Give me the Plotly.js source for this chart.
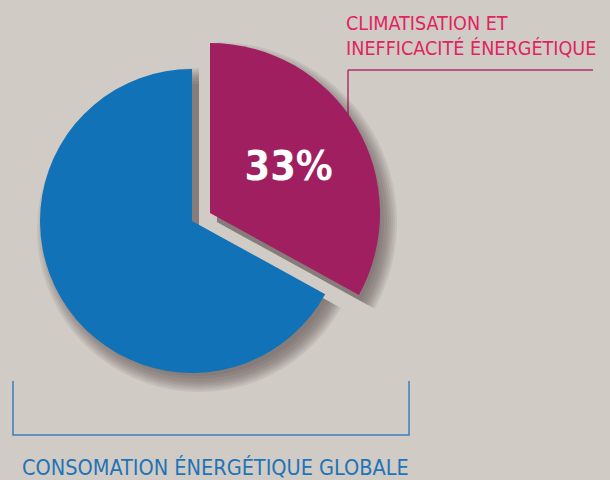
<!DOCTYPE html>
<html>
<head>
<meta charset="utf-8">
<script src="https://cdn.plot.ly/plotly-3.0.1.min.js"></script>
<style>html,body{margin:0;padding:0;background:#d0cbc5;}</style>
</head>
<body>
<div id="chart" style="width:610px;height:480px;"></div>
<script>
const labels = ["Climatisation et inefficacité énergétique", "Consommation énergétique globale"];
const values = [33, 67];
const sliceColors = ["#a01f60", "#1172b8"];
const topLabel = "CLIMATISATION ET<br>INEFFICACITÉ ÉNERGÉTIQUE";
const bottomLabel = "CONSOMATION ÉNERGÉTIQUE GLOBALE";

const W = 610, H = 480;
function dom(cx, cy, r) {
  return {x: [(cx - r) / W, (cx + r) / W], y: [1 - (cy + r) / H, 1 - (cy - r) / H]};
}
const FONT = "'DejaVu Sans Condensed', 'Liberation Sans Narrow', 'DejaVu Sans', sans-serif";

const base = {type: "pie", labels: labels, values: values, sort: false, direction: "clockwise",
  rotation: 0, hoverinfo: "skip", showlegend: false, textinfo: "none"};

const traces = [];
// soft shadow layers
const blurs = [-6, -3, 0, 2, 4, 6, 8, 10];
const sh = "rgba(55,45,40,0.075)";
blurs.forEach(b => {
  traces.push(Object.assign({}, base, {
    domain: dom(192 + 7, 221 + 9, 152 + b),
    marker: {colors: ["rgba(0,0,0,0)", sh]}
  }));
  traces.push(Object.assign({}, base, {
    domain: dom(210 + 7, 213 + 9, 170 + b),
    marker: {colors: [sh, "rgba(0,0,0,0)"]}
  }));
});
// blue slice
traces.push(Object.assign({}, base, {
  domain: dom(192, 221, 152),
  marker: {colors: ["rgba(0,0,0,0)", sliceColors[1]]}
}));
// magenta slice
traces.push(Object.assign({}, base, {
  domain: dom(210, 213, 170),
  marker: {colors: [sliceColors[0], "rgba(0,0,0,0)"]},
  textinfo: "percent",
  texttemplate: ["%{percent:.0%}", ""],
  textposition: "inside",
  insidetextorientation: "horizontal",
  insidetextfont: {family: FONT, size: 41, color: "#ffffff", weight: "bold"}
}));

const layout = {
  width: W, height: H,
  margin: {l: 0, r: 0, t: 0, b: 0},
  paper_bgcolor: "#d0cbc5",
  plot_bgcolor: "#d0cbc5",
  shapes: [
    {type: "line", xref: "paper", yref: "paper", x0: 348 / W, x1: 593 / W, y0: 1 - 70 / H, y1: 1 - 70 / H,
     line: {color: "#b0306a", width: 1.5}, layer: "below"},
    {type: "line", xref: "paper", yref: "paper", x0: 348 / W, x1: 348 / W, y0: 1 - 70 / H, y1: 1 - 130 / H,
     line: {color: "#b0306a", width: 1.5}, layer: "below"},
    {type: "path", xref: "paper", yref: "paper",
     path: `M ${13 / W} ${1 - 381 / H} L ${13 / W} ${1 - 435 / H} L ${409 / W} ${1 - 435 / H} L ${409 / W} ${1 - 381 / H}`,
     line: {color: "#3a7fc0", width: 1.5}, layer: "below"}
  ],
  annotations: [
    {text: topLabel, xref: "paper", yref: "paper", x: 344 / W, y: 1 - 10 / H, xanchor: "left", yanchor: "top",
     align: "left", showarrow: false, font: {family: FONT, size: 19.6, color: "#e0245e"}},
    {text: bottomLabel, xref: "paper", yref: "paper", x: 20 / W, y: 1 - 467 / H, xanchor: "left", yanchor: "middle",
     align: "left", showarrow: false, font: {family: FONT, size: 21.5, color: "#1f73b7"}}
  ]
};
Plotly.newPlot("chart", traces, layout, {staticPlot: true});
</script>
</body>
</html>
